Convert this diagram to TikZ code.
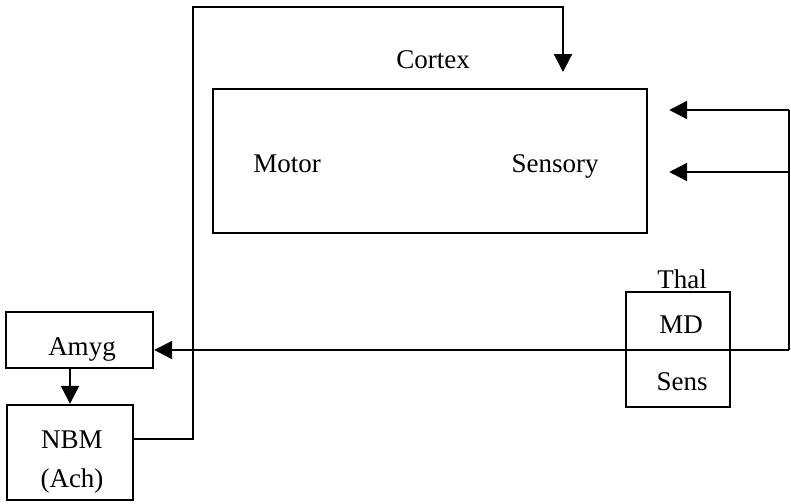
\documentclass[tikz,border=0pt]{standalone}
\usepackage{fontspec}
\setmainfont{Liberation Serif}
\usetikzlibrary{arrows.meta, calc}

\begin{document}
\begin{tikzpicture}[
  x=0.5pt, y=-0.5pt,
  >={Triangle[length=9pt, width=9pt]},
  line width=1.1pt,
  block/.style={
    draw,
    rectangle,
    inner sep=0pt,
    line width=1.2pt
  },
  lbl/.style={
    anchor=base,
    inner sep=0pt,
    font=\fontsize{13.5}{16}\selectfont
  }
]
\useasboundingbox (0,0) rectangle (791,503);

% --- Blocks ---
\node[block, minimum width=217pt, minimum height=72pt]   (cortex) at (430, 161)   {};
\node[block, minimum width=73.5pt, minimum height=28pt]  (amyg)   at (79.5, 340)  {};
\node[block, minimum width=63pt, minimum height=47.5pt]  (nbm)    at (70, 452.5)  {};
\node[block, minimum width=52pt, minimum height=57.5pt]  (thal)   at (678, 349.5) {};

% --- Labels (placed on their baselines) ---
\node[lbl] (cortexlbl) at (433, 68)  {Cortex};
\node[lbl] (motor)     at (287, 172) {Motor};
\node[lbl] (sensory)   at (555, 172) {Sensory};
\node[lbl] (amyglbl)   at (82, 355)  {Amyg};
\node[lbl] (nbmlbl)    at (72, 448)  {NBM};
\node[lbl] (achlbl)    at (72, 487)  {(Ach)};
\node[lbl] (thallbl)   at (682, 288) {Thal};
\node[lbl] (mdlbl)     at (681, 333) {MD};
\node[lbl] (senslbl)   at (682, 390) {Sens};

% --- Routing points ---
\pgfmathsetmacro{\lx}{193}   % left loop x
\pgfmathsetmacro{\tx}{563}   % drop into cortex
\pgfmathsetmacro{\rx}{789}   % right-hand feed x
\coordinate (loopL)    at (\lx, 7);
\coordinate (loopR)    at (\tx, 7);
\coordinate (cortexin) at (\tx, 72);
\coordinate (rtop)     at (\rx, 110);
\coordinate (rmid)     at (\rx, 172);
\coordinate (rbot)     at (\rx, 350);

% --- NBM: out right, up and over, down onto Cortex ---
\draw[->]
  ([yshift=6.75pt]nbm.east)   % NBM right port
  -| (loopL)                  % over and up
  -- (loopR)                  % along the top
  -- (cortexin);              % down onto cortex

% --- right-hand feed: into Sensory cortex and Amyg ---
\draw (rtop) -- (rbot);
\draw[->, shorten >=10.5pt] (rtop) -- (rtop -| cortex.east);
\draw[->, shorten >=10.5pt] (rmid) -- (rmid -| cortex.east);
\draw[->] (rbot) -- (rbot -| amyg.east);

% --- Amyg down to NBM ---
\draw[->] (amyg.south -| nbm.north) -- (nbm.north);

\end{tikzpicture}
\end{document}
